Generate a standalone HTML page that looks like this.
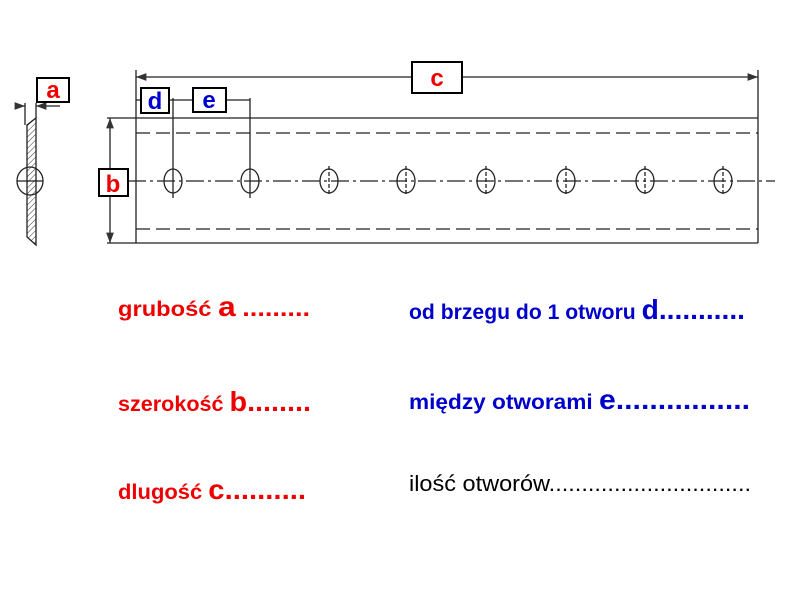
<!DOCTYPE html>
<html><head><meta charset="utf-8"><style>body{margin:0;background:#fff}svg{display:block}</style></head>
<body>
<svg width="800" height="600" viewBox="0 0 800 600" xmlns="http://www.w3.org/2000/svg" font-family="Liberation Sans, sans-serif">
<defs>
<pattern id="h" width="4" height="4" patternUnits="userSpaceOnUse" patternTransform="rotate(45)"><line x1="0" y1="0" x2="0" y2="4" stroke="#333" stroke-width="1"/></pattern>
<marker id="ar" markerWidth="8" markerHeight="6" refX="8" refY="3" orient="auto-start-reverse"><path d="M0,0 L8,3 L0,6z" fill="#333"/></marker>
</defs>
<g stroke="#222" stroke-width="1.3" fill="none">
<path d="M27,125 L36,118 L36,245 L27,237 Z" fill="url(#h)"/>
<ellipse cx="30" cy="181" rx="13" ry="14"/>
<line x1="17" y1="181" x2="43" y2="181"/>
<line x1="17" y1="106" x2="25" y2="106" marker-end="url(#ar)"/>
<line x1="60" y1="106" x2="36" y2="106" marker-end="url(#ar)"/>
<line x1="25" y1="103" x2="25" y2="125"/><line x1="36" y1="103" x2="36" y2="118"/>
<line x1="107" y1="118" x2="758" y2="118"/>
<line x1="107" y1="243" x2="758" y2="243"/>
<line x1="758" y1="70" x2="758" y2="243"/>
<line x1="136" y1="70" x2="136" y2="243"/>
<line x1="110" y1="118" x2="110" y2="243" marker-start="url(#ar)" marker-end="url(#ar)"/>
<line x1="136" y1="133" x2="758" y2="133" stroke-dasharray="14,6"/>
<line x1="136" y1="229" x2="758" y2="229" stroke-dasharray="14,6"/>
<line x1="128" y1="181" x2="775" y2="181" stroke-dasharray="18,4,3,4"/>
<line x1="136" y1="77" x2="758" y2="77" marker-start="url(#ar)" marker-end="url(#ar)"/>
<line x1="136" y1="100" x2="250" y2="100"/>
<line x1="173" y1="98" x2="173" y2="198"/>
<line x1="250" y1="98" x2="250" y2="198"/>
<ellipse cx="173" cy="181" rx="9" ry="12"/><ellipse cx="250" cy="181" rx="9" ry="12"/>
<ellipse cx="329" cy="181" rx="9" ry="12"/><ellipse cx="406" cy="181" rx="9" ry="12"/>
<ellipse cx="486" cy="181" rx="9" ry="12"/><ellipse cx="566" cy="181" rx="9" ry="12"/>
<ellipse cx="645" cy="181" rx="9" ry="12"/><ellipse cx="723" cy="181" rx="9" ry="12"/>
<path d="M329,166V196M406,166V196M486,166V196M566,166V196M645,166V196M723,166V196" stroke-dasharray="4,2"/>
</g>
<g stroke="#000" stroke-width="2" fill="#fff">
<rect x="37" y="78" width="32" height="24"/>
<rect x="412" y="62" width="50" height="31"/>
<rect x="141" y="88" width="28" height="25"/>
<rect x="193" y="88" width="33" height="24"/>
<rect x="99" y="169" width="29" height="27"/>
</g>
<g font-weight="bold" font-size="24" text-anchor="middle">
<text x="53" y="98" fill="#e00">a</text>
<text x="437" y="86" fill="#e00">c</text>
<text x="155" y="109" fill="#00c">d</text>
<text x="209" y="108" fill="#00c">e</text>
<text x="113" y="192" fill="#e00">b</text>
</g>
<g font-weight="bold">
<text x="118" y="316" fill="#e00" font-size="21" textLength="192" lengthAdjust="spacingAndGlyphs">grubość <tspan font-size="28">a</tspan> <tspan font-size="24">.........</tspan></text>
<text x="118" y="411" fill="#e00" font-size="21" textLength="193" lengthAdjust="spacingAndGlyphs">szerokość <tspan font-size="28">b........</tspan></text>
<text x="118" y="499" fill="#e00" font-size="21" textLength="188" lengthAdjust="spacingAndGlyphs">dlugość <tspan font-size="28">c..........</tspan></text>
<text x="409" y="319" fill="#00c" font-size="21" textLength="336" lengthAdjust="spacingAndGlyphs">od brzegu do 1 otworu <tspan font-size="28">d...........</tspan></text>
<text x="409" y="409" fill="#00c" font-size="21" textLength="341" lengthAdjust="spacingAndGlyphs">między otworami  <tspan font-size="28">e................</tspan></text>
</g>
<text x="409" y="491" fill="#000" font-size="22" textLength="342" lengthAdjust="spacingAndGlyphs">ilość otworów...............................</text>
</svg>
</body></html>
